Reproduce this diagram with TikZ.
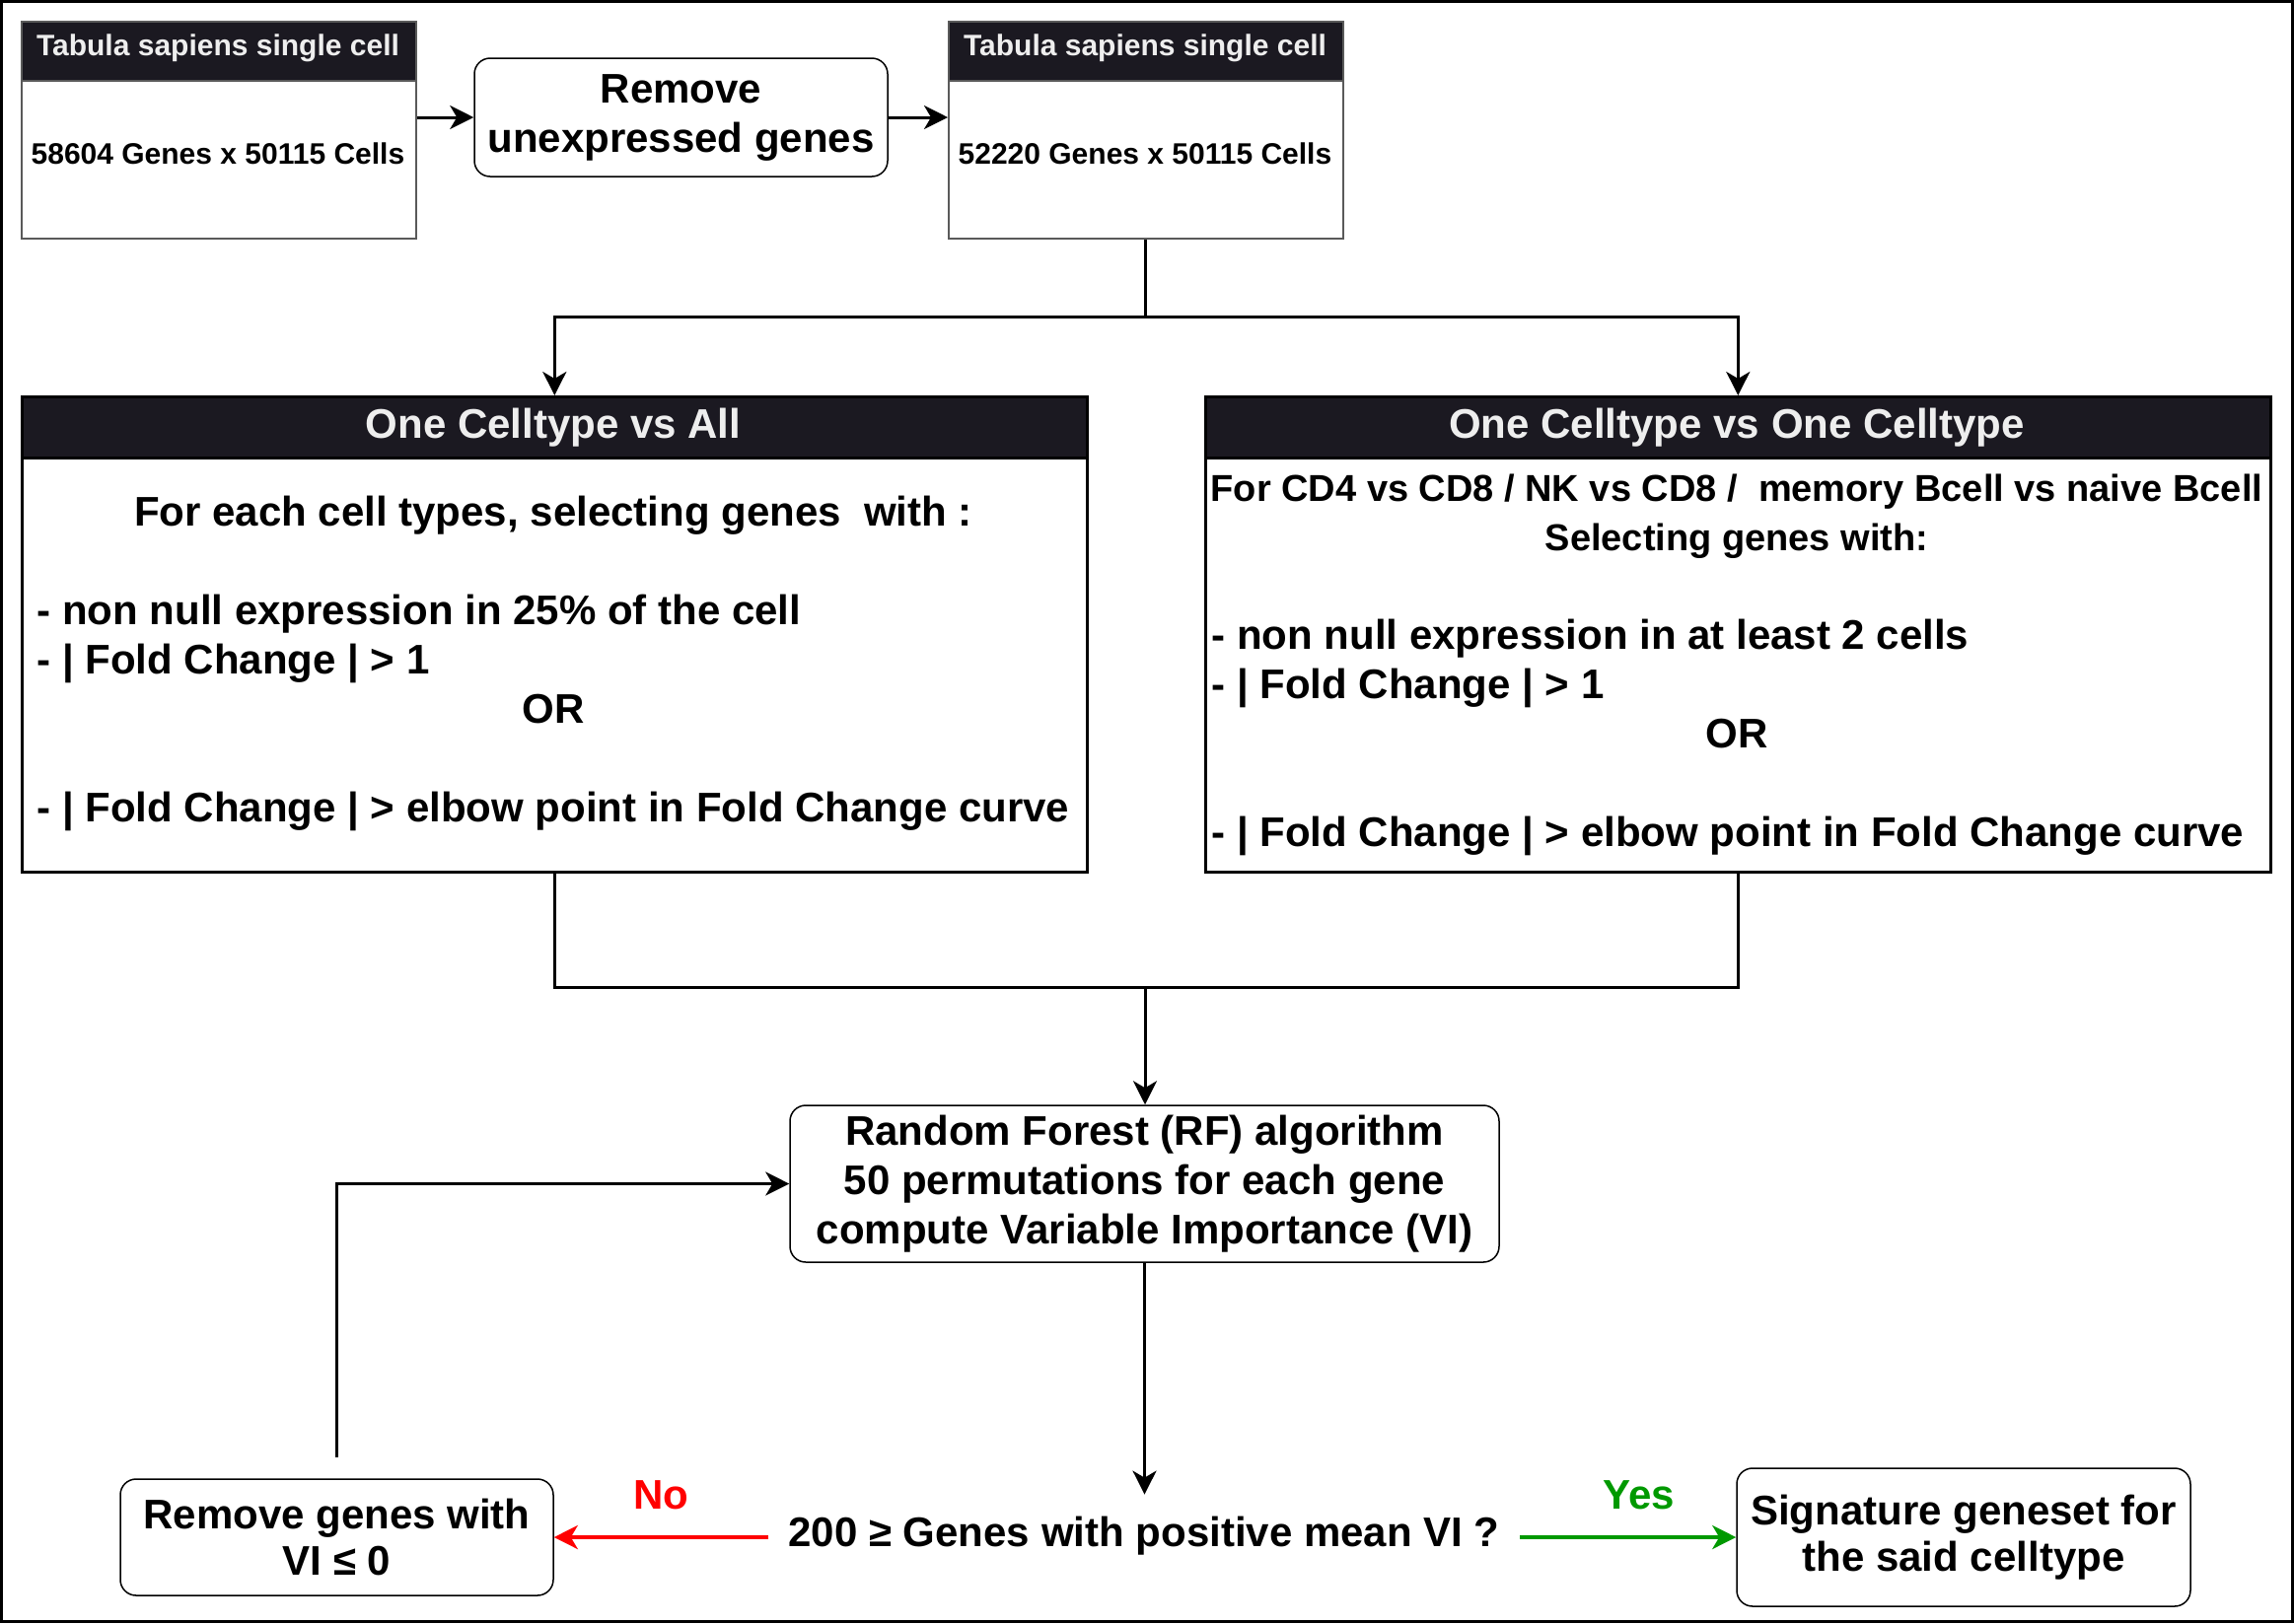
\documentclass[tikz,border=0pt]{standalone}
\usepackage{fontspec}
\setmainfont{Liberation Sans}
\usetikzlibrary{arrows.meta}
\definecolor{hdr}{RGB}{27,25,33}
\definecolor{hdrtxt}{RGB}{238,238,238}
\definecolor{tabgray}{RGB}{90,90,90}
\definecolor{nored}{RGB}{255,0,0}
\definecolor{yesgreen}{RGB}{0,153,0}
\begin{document}
\begin{tikzpicture}[x=0.5pt,y=-0.5pt,
  big/.style={font=\fontsize{21}{25}\selectfont\bfseries},
  mid/.style={font=\fontsize{19}{25}\selectfont\bfseries},
  small/.style={font=\fontsize{15}{18}\selectfont\bfseries},
  tabbox/.style={draw=tabgray, line width=1pt, minimum width=200pt, minimum height=110pt, anchor=north west, inner sep=0pt},
  tabhead/.style={draw=tabgray, fill=hdr, line width=1pt, minimum width=200pt, minimum height=30pt, anchor=north west, inner sep=0pt},
  bigbox/.style={draw=black, line width=1.3pt, minimum width=540pt, minimum height=241pt, anchor=north west, inner sep=0pt},
  bighead/.style={draw=black, fill=hdr, line width=1.3pt, minimum width=540pt, minimum height=31pt, anchor=north west, inner sep=0pt},
  rbox/.style={draw=black, line width=0.75pt, rounded corners=8pt, align=center, big, inner sep=0pt},
  txt/.style={inner sep=0pt, anchor=base west, big},
  ctxt/.style={inner sep=0pt, anchor=base, big},
  stxt/.style={inner sep=0pt, anchor=base, small},
  conn/.style={draw=black, line width=1.5pt, -{Stealth[length=12pt,width=12pt,inset=3.5pt]}},
  joinline/.style={draw=black, line width=1.5pt},
  noarrow/.style={draw=nored, line width=2pt, -{Stealth[length=12pt,width=12pt,inset=3.5pt]}},
  yesarrow/.style={draw=yesgreen, line width=2pt, -{Stealth[length=12pt,width=12pt,inset=3.5pt]}}
]
\path[use as bounding box] (0,0) rectangle (2326,1646);
\draw[line width=1.5pt] (1.5,1.5) rectangle (2324.5,1644.5);

% Tabula left
\node[tabbox] (A) at (21,21) {};
\node[tabhead] (Ah) at (21,21) {};
\node[stxt, text=hdrtxt] (Aht) at (221,56) {Tabula sapiens single cell};
\node[stxt] (Ab) at (221,166) {58604 Genes x 50115 Cells};

% Remove unexpressed
\node[rbox, minimum width=209.5pt, minimum height=60pt] (rem) at (690.5,119) {Remove\\unexpressed genes};

% Tabula right
\node[tabbox] (B) at (961,21) {};
\node[tabhead] (Bh) at (961,21) {};
\node[stxt, text=hdrtxt] (Bht) at (1161,56) {Tabula sapiens single cell};
\node[stxt] (Bb) at (1161,166) {52220 Genes x 50115 Cells};

\draw[conn] (A.east |- rem.west) -- (rem.west);
\draw[conn] (rem.east) -- (B.west |- rem.east);

% One vs All
\node[bigbox] (C) at (21,401) {};
\node[bighead] (Ch) at (21,401) {};
\node[ctxt, text=hdrtxt] (Cht) at (561,444) {One Celltype vs All};
\node[ctxt] (C1) at (561,533) {For each cell types, selecting genes\ \ with :};
\node[txt] (C2) at (37,633) {- non null expression in 25\% of the cell};
\node[txt] (C3) at (37,683) {- | Fold Change | > 1};
\node[ctxt] (C4) at (561,733) {OR};
\node[txt] (C5) at (37,833) {- | Fold Change | > elbow point in Fold Change curve};

% One vs One
\node[bigbox] (D) at (1221,401) {};
\node[bighead] (Dh) at (1221,401) {};
\node[ctxt, text=hdrtxt] (Dht) at (1761,444) {One Celltype vs One Celltype};
\node[ctxt, mid] (D1) at (1761,508) {For CD4 vs CD8 / NK vs CD8 /\ \ memory Bcell vs naive Bcell};
\node[ctxt, mid] (D2) at (1761,558) {Selecting genes with:};
\node[txt] (D3) at (1228,658) {- non null expression in at least 2 cells};
\node[txt] (D4) at (1228,708) {- | Fold Change | > 1};
\node[ctxt] (D5) at (1761,758) {OR};
\node[txt] (D6) at (1228,858) {- | Fold Change | > elbow point in Fold Change curve};

% split connectors
\coordinate (split) at (1161,321);
\draw[joinline] (split |- B.south) -- (split);
\draw[conn] (split) -| (C.north);
\draw[conn] (split) -| (D.north);

% Random forest
\node[rbox, minimum width=359.5pt, minimum height=79.5pt] (rf) at (1160.5,1200.5) {Random Forest (RF) algorithm\\50 permutations for each gene\\compute Variable Importance (VI)};

\coordinate (merge) at (1161,1001);
\draw[joinline] (C.south) |- (merge) -| (D.south);
\draw[conn] (merge) -- (merge |- rf.north);

% decision
\node[big, anchor=base, inner xsep=10pt, inner ysep=0pt, text height=26pt, text depth=17pt] (dec) at (1160,1568) {200 ≥ Genes with positive mean VI ?};
\draw[conn] (rf.south) -- (rf.south |- dec.north);

\node[rbox, minimum width=219.5pt, minimum height=59pt] (remg) at (341.5,1559) {Remove genes with\\[-1.5pt]VI ≤ 0};
\node[rbox, minimum width=230pt, minimum height=70pt] (sig) at (1991,1559) {Signature geneset for\\[-1.5pt]the said celltype};

\draw[noarrow] (dec.west) -- (remg.east) node[midway, yshift=21.5pt, text=nored, big] (nolab) {No};
\draw[yesarrow] (dec.east) -- (sig.west) node[pos=0.55, yshift=21.5pt, text=yesgreen, big] (yeslab) {Yes};

\draw[conn] ([yshift=10.5pt]remg.north) |- (rf.west);
\end{tikzpicture}
\end{document}
